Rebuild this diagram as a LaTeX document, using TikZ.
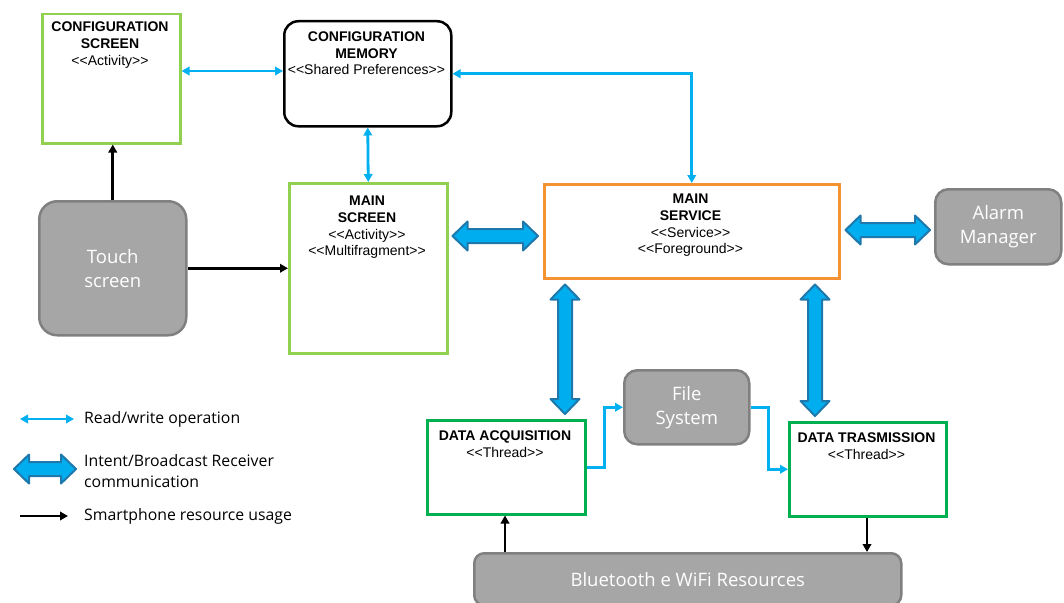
\documentclass[tikz,border=0pt]{standalone}
\usepackage{fontspec}
\setmainfont{Liberation Sans}
\newfontfamily\segoe{Open Sans}
\usetikzlibrary{calc,arrows.meta}

\definecolor{lightgreen}{RGB}{146,208,80}
\definecolor{darkgreen}{RGB}{0,176,80}
\definecolor{svcorange}{RGB}{245,146,50}
\definecolor{rwblue}{RGB}{0,176,240}
\definecolor{fatfill}{RGB}{0,174,239}
\definecolor{fatedge}{RGB}{30,120,172}
\definecolor{grayfill}{RGB}{166,166,166}
\definecolor{grayedge}{RGB}{128,128,128}

% stereotype label without ligatures on the angle brackets
\newcommand\sttype[1]{<\kern0pt<#1>\kern0pt>}

\begin{document}
\begin{tikzpicture}[x=1pt,y=-1pt,
  box/.style={draw=#1, line width=2.5pt, anchor=north west, inner sep=0pt, fill=white},
  graybox/.style={draw=grayedge, fill=grayfill, line width=2.5pt, rounded corners=16pt,
    anchor=north west, inner sep=0pt, text=white, align=center,
    font=\segoe\fontsize{18.5}{24}\selectfont},
  title/.style={font=\fontsize{14}{16.7}\selectfont, align=center, inner sep=0pt, anchor=north},
  rwtwo/.style={draw=rwblue, line width=2.8pt, {Triangle[length=8pt,width=8.5pt]}-{Triangle[length=8pt,width=8.5pt]}},
  rwone/.style={draw=rwblue, line width=2.8pt, -{Triangle[length=8pt,width=8.5pt]}},
  res/.style={draw=black, line width=2.8pt, -{Triangle[length=8pt,width=8.5pt]}},
  fat/.style={draw=fatedge, fill=fatfill, line width=2pt, line join=round,
    to path={let \p1=(\tikztostart), \p2=(\tikztotarget),
      \n1={atan2(\y2-\y1,\x2-\x1)} in
      (\p1)
      -- ($(\p1)+(\n1:15pt)+(\n1+90:14.5pt)$)
      -- ($(\p1)+(\n1:15pt)+(\n1+90:7pt)$)
      -- ($(\p2)+(\n1+180:15pt)+(\n1+90:7pt)$)
      -- ($(\p2)+(\n1+180:15pt)+(\n1+90:14.5pt)$)
      -- (\p2)
      -- ($(\p2)+(\n1+180:15pt)+(\n1-90:14.5pt)$)
      -- ($(\p2)+(\n1+180:15pt)+(\n1-90:7pt)$)
      -- ($(\p1)+(\n1:15pt)+(\n1-90:7pt)$)
      -- ($(\p1)+(\n1:15pt)+(\n1-90:14.5pt)$)
      -- cycle}},
  legtext/.style={font=\segoe\fontsize{15.8}{21}\selectfont, anchor=west, inner sep=0pt, align=left}
]
\useasboundingbox[fill=white] (0,0) rectangle (1064,602);

% ---------- components ----------
\node[box=lightgreen, minimum width=138pt, minimum height=129pt] (cfg) at (41,13) {};
\node[title] at (110,22) {\textbf{CONFIGURATION}\\\textbf{SCREEN}\\\sttype{Activity}};

\node[box=black, rounded corners=14pt, minimum width=167pt, minimum height=105pt] (mem) at (283,20) {};
\node[title] at (366.5,31.5) {\textbf{CONFIGURATION}\\\textbf{MEMORY}\\\sttype{Shared Preferences}};

\node[box=lightgreen, minimum width=158pt, minimum height=170pt] (scr) at (288,182) {};
\node[title] at (367,196) {\textbf{MAIN}\\\textbf{SCREEN}\\\sttype{Activity}\\\sttype{Multifragment}};

\node[box=svcorange, minimum width=295pt, minimum height=94pt] (svc) at (543,183) {};
\node[title] at (690.5,194) {\textbf{MAIN}\\\textbf{SERVICE}\\\sttype{Service}\\\sttype{Foreground}};

\node[graybox, minimum width=147pt, minimum height=134pt, rounded corners=18pt] (touch) at (38,200) {Touch\\screen};
\node[graybox, minimum width=126pt, minimum height=75pt, rounded corners=13pt] (alarm) at (934,188) {Alarm\\Manager};
\node[graybox, minimum width=125pt, minimum height=74pt, rounded corners=13pt] (fs) at (623,369) {File\\System};

\node[box=darkgreen, minimum width=158pt, minimum height=94pt] (acq) at (426,419) {};
\node[title] at (505,430.5) {\textbf{DATA ACQUISITION}\\\sttype{Thread}};

\node[box=darkgreen, minimum width=157pt, minimum height=94pt] (trans) at (788,421) {};
\node[title] at (866.5,432.5) {\textbf{DATA TRASMISSION}\\\sttype{Thread}};

\node[graybox, minimum width=427pt, minimum height=52pt, rounded corners=10pt] (bt) at (473,552) {Bluetooth e WiFi Resources};

% ---------- helper coordinates ----------
\coordinate (y71) at (0,71);
\coordinate (y230) at (0,230);
\coordinate (y236) at (0,236);
\coordinate (x505) at (505,0);
\coordinate (x867) at (867,0);
\coordinate (x565) at (565,0);
\coordinate (x815) at (815,0);

% ---------- read/write operations ----------
\draw[rwtwo] (cfg.east |- y71) -- (mem.west |- y71);
\draw[rwtwo] (mem.east) -| (svc.north);
\draw[rwtwo] (mem.south) -- (scr.north);
\draw[rwone] (acq.east) -- ++(18,0) |- (fs.west);
\draw[rwone] (fs.east) -- ++(18,0) |- (trans.west);

% ---------- smartphone resources ----------
\draw[res] (touch.north) -- (touch.north |- cfg.south);
\draw[res] (touch.east) -- (touch.east -| scr.west);
\draw[res] (bt.north -| x505) -- (acq.south -| x505);
\draw[res] (trans.south -| x867) -- (bt.north -| x867);

% ---------- intents / broadcast receivers ----------
\draw[fat] ($(scr.east |- y236)+(4,0)$) to ($(svc.west |- y236)+(-5,0)$);
\draw[fat] ($(svc.east |- y230)+(5,0)$) to ($(alarm.west |- y230)+(-4,0)$);
\draw[fat] ($(svc.south -| x565)+(0,5)$) to ($(acq.north -| x565)+(0,-5)$);
\draw[fat] ($(svc.south -| x815)+(0,5)$) to ($(trans.north -| x815)+(0,-5)$);

% ---------- legend ----------
\coordinate (la) at (20,419);
\coordinate (lb) at (74,419);
\coordinate (lc) at (14,469);
\coordinate (ld) at (76,469);
\coordinate (le) at (20,516);
\coordinate (lf) at (68,516);
\draw[rwtwo] (la) -- (lb);
\draw[fat] (lc) to (ld);
\draw[res] (le) -- (lf);
\node[legtext] (t1) at (84,419) {Read/write operation};
\node[legtext] (t2) at (84,471) {Intent/Broadcast Receiver\\communication};
\node[legtext] (t3) at (84,516) {Smartphone resource usage};
\end{tikzpicture}
\end{document}
